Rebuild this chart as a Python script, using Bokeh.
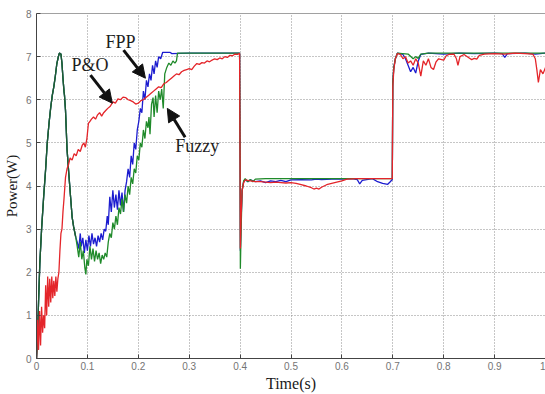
from bokeh.plotting import figure
from bokeh.models import Range1d, FixedTicker, Label, Arrow, NormalHead, Span
from bokeh.embed import file_html
from bokeh.resources import INLINE

# ---------------- data ----------------
x_ticks = [0, 0.1, 0.2, 0.3, 0.4, 0.5, 0.6, 0.7, 0.8, 0.9, 1.0]
x_tick_labels = ["0", "0.1", "0.2", "0.3", "0.4", "0.5", "0.6", "0.7", "0.8", "0.9", "1"]
y_ticks = [0, 1, 2, 3, 4, 5, 6, 7, 8]
y_tick_labels = ["0", "1", "2", "3", "4", "5", "6", "7", "8"]

# common start of FPP and Fuzzy (the two traces overlap here)
start_t = [0, 0.002, 0.004, 0.0065, 0.010, 0.014, 0.018, 0.021, 0.025, 0.028, 0.031, 0.034,
           0.037, 0.040, 0.043, 0.045, 0.048, 0.050, 0.052, 0.054, 0.055, 0.057, 0.060, 0.064,
           0.067, 0.070, 0.073, 0.077]
start_p = [0, 0.5, 1.3, 2.2, 3.0, 3.74, 4.4, 4.98, 5.5, 5.83, 6.1, 6.3,
           6.55, 6.84, 7.0, 7.08, 7.06, 6.85, 6.5, 6.2, 6.1, 5.75, 4.85, 4.2,
           3.74, 3.28, 3.05, 2.82]

fpp_t = start_t + [
    0.080, 0.083, 0.086, 0.088, 0.091, 0.094, 0.097, 0.100, 0.103, 0.106, 0.109, 0.112,
    0.115, 0.118, 0.121, 0.124, 0.127, 0.130, 0.133, 0.136, 0.139, 0.141, 0.144, 0.147,
    0.150, 0.153, 0.156, 0.159, 0.162, 0.165, 0.168, 0.171, 0.174, 0.177, 0.180, 0.183,
    0.186, 0.189, 0.192, 0.195, 0.198, 0.201, 0.204, 0.207, 0.210, 0.213, 0.216, 0.219,
    0.222, 0.225, 0.228, 0.231, 0.234, 0.237, 0.240, 0.244, 0.248, 0.255, 0.262, 0.266,
    0.300, 0.350, 0.399, 0.400, 0.4005, 0.402, 0.404, 0.407,
    0.410, 0.415, 0.420, 0.430, 0.440, 0.450, 0.460, 0.470, 0.480, 0.490, 0.500, 0.520,
    0.540, 0.550, 0.560, 0.580, 0.600, 0.620, 0.630, 0.635, 0.640, 0.660, 0.670, 0.680,
    0.690, 0.695, 0.699, 0.700, 0.702, 0.705, 0.709, 0.720, 0.725, 0.730, 0.735, 0.740,
    0.745, 0.750, 0.755, 0.770, 0.800, 0.830, 0.860, 0.900, 0.915, 0.920, 0.925, 0.960,
    0.980, 1.000]
fpp_p = start_p + [
    2.7, 2.55, 2.9, 2.6, 2.8, 2.45, 2.75, 2.5, 2.85, 2.6, 2.9, 2.65,
    2.8, 2.6, 2.85, 2.7, 2.9, 2.75, 3.0, 2.95, 3.3, 3.1, 3.75, 3.4,
    3.9, 3.5, 3.8, 3.45, 3.9, 3.55, 3.85, 3.4, 3.9, 4.1, 4.4, 4.2,
    4.7, 4.5, 5.0, 4.85, 5.3, 5.5, 5.8, 5.7, 6.2, 6.0, 6.45, 6.3,
    6.6, 6.45, 6.8, 6.6, 6.9, 6.75, 7.0, 6.95, 7.1, 7.1, 7.1, 7.07,
    7.08, 7.08, 7.08, 4.5, 2.5, 3.2, 3.9, 4.1,
    4.15, 4.1, 4.14, 4.1, 4.12, 4.08, 4.12, 4.1, 4.13, 4.1, 4.14, 4.15,
    4.14, 4.16, 4.15, 4.16, 4.16, 4.17, 4.15, 4.05, 4.13, 4.17, 4.1, 4.06,
    4.04, 4.1, 4.15, 6.4, 6.75, 6.95, 7.08, 7.05, 6.95, 6.8, 6.65, 6.75,
    6.62, 6.9, 7.05, 7.08, 7.06, 7.08, 7.07, 7.08, 7.07, 6.98, 7.07, 7.08,
    7.06, 7.08]

fuzzy_t = start_t + [
    0.080, 0.083, 0.086, 0.089, 0.092, 0.095, 0.097, 0.099, 0.102, 0.105, 0.108, 0.111,
    0.114, 0.117, 0.120, 0.123, 0.126, 0.129, 0.132, 0.135, 0.138, 0.141, 0.144, 0.147,
    0.150, 0.153, 0.156, 0.159, 0.162, 0.165, 0.168, 0.171, 0.174, 0.177, 0.180, 0.183,
    0.186, 0.189, 0.192, 0.195, 0.198, 0.201, 0.204, 0.207, 0.210, 0.213, 0.216, 0.219,
    0.221, 0.223, 0.226, 0.229, 0.231, 0.234, 0.237, 0.240, 0.243, 0.246, 0.249, 0.252,
    0.256, 0.260, 0.264, 0.268, 0.272, 0.275, 0.277, 0.300, 0.350, 0.399, 0.400, 0.4005,
    0.402, 0.404, 0.407, 0.410, 0.415, 0.420, 0.425, 0.430, 0.450, 0.500, 0.550, 0.600,
    0.650, 0.699, 0.700, 0.702, 0.705, 0.709, 0.730, 0.740, 0.745, 0.750, 0.755, 0.770,
    0.850, 0.950, 1.000]
fuzzy_p = start_p + [
    2.6, 2.35, 2.7, 2.3, 2.5, 2.1, 1.95, 2.3, 2.15, 2.6, 2.3, 2.55,
    2.25, 2.5, 2.3, 2.45, 2.2, 2.4, 2.3, 2.45, 2.35, 2.7, 2.9, 2.8,
    3.15, 3.0, 3.3, 3.1, 3.5, 3.35, 3.7, 3.4, 3.8, 3.6, 4.0, 3.8,
    4.2, 4.05, 4.4, 4.3, 4.7, 4.6, 5.0, 4.9, 5.3, 5.1, 5.5, 5.35,
    5.6, 5.2, 5.9, 6.05, 5.6, 6.1, 5.7, 6.2, 6.0, 6.25, 5.8, 6.6,
    6.75, 6.85, 6.8, 6.9, 6.85, 6.9, 7.08, 7.08, 7.08, 7.08, 4.6, 2.08,
    3.0, 3.9, 4.12, 4.17, 4.1, 4.15, 4.1, 4.16, 4.17, 4.17, 4.17, 4.17,
    4.17, 4.17, 6.4, 6.75, 6.95, 7.08, 7.06, 6.95, 7.0, 6.96, 7.06, 7.08,
    7.08, 7.08, 7.08]

po_t = [0, 0.002, 0.004, 0.006, 0.008, 0.010, 0.012, 0.014, 0.016, 0.018, 0.020, 0.022,
        0.024, 0.026, 0.028, 0.030, 0.032, 0.034, 0.036, 0.038, 0.040, 0.042, 0.044, 0.046,
        0.048, 0.050, 0.052, 0.054, 0.057, 0.060, 0.063, 0.066, 0.070, 0.074, 0.078, 0.082,
        0.086, 0.090, 0.093, 0.096, 0.099, 0.102, 0.105, 0.108, 0.112, 0.116, 0.120, 0.124,
        0.128, 0.132, 0.136, 0.140, 0.145, 0.150, 0.155, 0.160, 0.165, 0.170, 0.175, 0.180,
        0.185, 0.190, 0.195, 0.200, 0.205, 0.210, 0.215, 0.220, 0.225, 0.230, 0.235, 0.240,
        0.245, 0.250, 0.255, 0.260, 0.265, 0.270, 0.275, 0.280, 0.285, 0.290, 0.295, 0.300,
        0.305, 0.310, 0.315, 0.320, 0.325, 0.330, 0.335, 0.340, 0.345, 0.350, 0.355, 0.360,
        0.365, 0.370, 0.375, 0.380, 0.385, 0.390, 0.395, 0.399, 0.400, 0.4005, 0.402, 0.404,
        0.407, 0.410, 0.420, 0.430, 0.440, 0.450, 0.460, 0.470, 0.480, 0.490, 0.500, 0.510,
        0.520, 0.530, 0.540, 0.545, 0.550, 0.555, 0.560, 0.570, 0.580, 0.590, 0.600, 0.610,
        0.630, 0.660, 0.699, 0.700, 0.702, 0.705, 0.709, 0.715, 0.720, 0.725, 0.730, 0.735,
        0.740, 0.745, 0.750, 0.755, 0.760, 0.765, 0.770, 0.775, 0.780, 0.785, 0.790, 0.800,
        0.805, 0.810, 0.820, 0.825, 0.828, 0.832, 0.840, 0.850, 0.855, 0.860, 0.865, 0.870,
        0.880, 0.900, 0.920, 0.940, 0.960, 0.975, 0.980, 0.983, 0.986, 0.990, 0.995, 1.000]
po_p = [0, 0.9, 0.2, 1.1, 0.3, 1.2, 0.6, 1.0, 0.7, 1.7, 1.0, 1.9,
        1.2, 1.85, 1.3, 1.9, 1.4, 1.8, 1.45, 1.9, 1.55, 1.85, 2.0, 2.5,
        2.9, 3.0, 3.4, 3.7, 4.2, 4.4, 4.5, 4.65, 4.6, 4.75, 4.7, 4.85,
        4.8, 4.95, 5.0, 4.9, 5.1, 5.45, 5.5, 5.55, 5.6, 5.55, 5.65, 5.7,
        5.62, 5.7, 5.75, 5.8, 5.85, 5.95, 5.92, 6.02, 6.0, 6.06, 6.05, 6.0,
        5.98, 5.95, 5.9, 5.92, 5.98, 6.0, 6.05, 6.1, 6.15, 6.2, 6.25, 6.3,
        6.28, 6.37, 6.4, 6.45, 6.5, 6.55, 6.6, 6.58, 6.65, 6.68, 6.7, 6.72,
        6.7, 6.78, 6.84, 6.82, 6.86, 6.85, 6.9, 6.88, 6.92, 6.95, 6.93, 6.97,
        6.95, 7.0, 6.98, 7.03, 7.02, 7.06, 7.05, 7.08, 4.4, 2.55, 3.3, 3.9,
        4.08, 4.14, 4.12, 4.1, 4.1, 4.09, 4.08, 4.09, 4.08, 4.07, 4.08, 4.06,
        4.03, 4.0, 3.96, 3.93, 3.95, 3.93, 3.97, 4.03, 4.06, 4.09, 4.12, 4.16,
        4.17, 4.17, 4.17, 6.3, 6.7, 6.95, 7.07, 7.05, 6.95, 7.0, 6.85, 6.9,
        6.8, 6.95, 6.85, 6.55, 6.9, 6.8, 6.95, 6.75, 6.7, 6.88, 6.95, 6.92,
        7.02, 7.05, 7.06, 6.95, 6.8, 7.0, 7.05, 6.97, 6.93, 6.96, 6.94, 7.03,
        7.06, 7.07, 7.06, 7.08, 7.07, 7.06, 6.95, 6.7, 6.4, 6.7, 6.6, 6.75]

# annotation texts and anchor points (data units)
ann_texts = ["FPP", "P&O", "Fuzzy"]
ann_text_xy = [(0.165, 7.34), (0.105, 6.80), (0.316, 4.93)]
ann_arrow_from = [(0.171, 7.15), (0.106, 6.57), (0.292, 5.13)]
ann_arrow_to = [(0.214, 6.50), (0.149, 5.92), (0.257, 5.80)]

x_view = (0, 1)
y_view = (0, 8)

# ---------------- figure ----------------
p = figure(width=545, height=394, output_backend="svg", toolbar_location=None,
           x_range=Range1d(*x_view), y_range=Range1d(*y_view),
           min_border_left=36, min_border_right=0, min_border_top=13, min_border_bottom=36)
p.background_fill_color = "white"
p.border_fill_color = "white"
p.outline_line_color = None
p.add_layout(Span(location=y_view[1], dimension="width", line_color="#444444", line_width=1))

p.line(fpp_t, fpp_p, line_color="#1c1ccf", line_width=1.3)
p.line(fuzzy_t, fuzzy_p, line_color="#1f8a2a", line_width=1.3)
# where FPP and Fuzzy coincide the overlapping traces look dark green
p.line(start_t, start_p, line_color="#1f5a33", line_width=1.3)
p.line(po_t, po_p, line_color="#e4252a", line_width=1.3)

xt = FixedTicker(ticks=x_ticks)
yt = FixedTicker(ticks=y_ticks)

for ax, ticker, labels in ((p.xaxis[0], xt, x_tick_labels), (p.yaxis[0], yt, y_tick_labels)):
    ax.ticker = ticker
    ax.major_label_overrides = {t: l for t, l in zip(ticker.ticks, labels)}
    ax.minor_tick_line_color = None
    ax.major_tick_in = 4
    ax.major_tick_out = 0
    ax.major_tick_line_color = "#444444"
    ax.axis_line_color = "#444444"
    ax.major_label_text_font = "Liberation Sans"
    ax.major_label_text_font_size = "10px"
    ax.major_label_text_color = "#747474"
    ax.axis_label_text_font = "Liberation Serif"
    ax.axis_label_text_font_style = "normal"
    ax.axis_label_text_color = "#1a1a1a"

p.xaxis.axis_label = "Time(s)"
p.xaxis.axis_label_text_font_size = "16px"
p.xaxis.major_label_standoff = 3
p.xaxis.axis_label_standoff = 2
p.yaxis.axis_label = "Power(W)"
p.yaxis.axis_label_text_font_size = "15px"
p.yaxis.major_label_standoff = 5
p.yaxis.axis_label_standoff = 3

p.xgrid.ticker = xt
p.ygrid.ticker = yt
for g in (p.xgrid[0], p.ygrid[0]):
    g.grid_line_color = "#8c8c8c"
    g.grid_line_dash = "1 2"
    g.grid_line_width = 1

for txt, (tx, ty), (fx, fy), (ex, ey) in zip(ann_texts, ann_text_xy, ann_arrow_from, ann_arrow_to):
    p.add_layout(Label(x=tx, y=ty, text=txt, text_font="Liberation Serif",
                       text_font_size="18px", text_color="#1e1e1e",
                       text_align="center", text_baseline="middle"))
    p.add_layout(Arrow(x_start=fx, y_start=fy, x_end=ex, y_end=ey,
                       line_color="#111111", line_width=3,
                       end=NormalHead(size=13, fill_color="#111111", line_color="#111111")))

open("out.html", "w").write(file_html(p, INLINE))
